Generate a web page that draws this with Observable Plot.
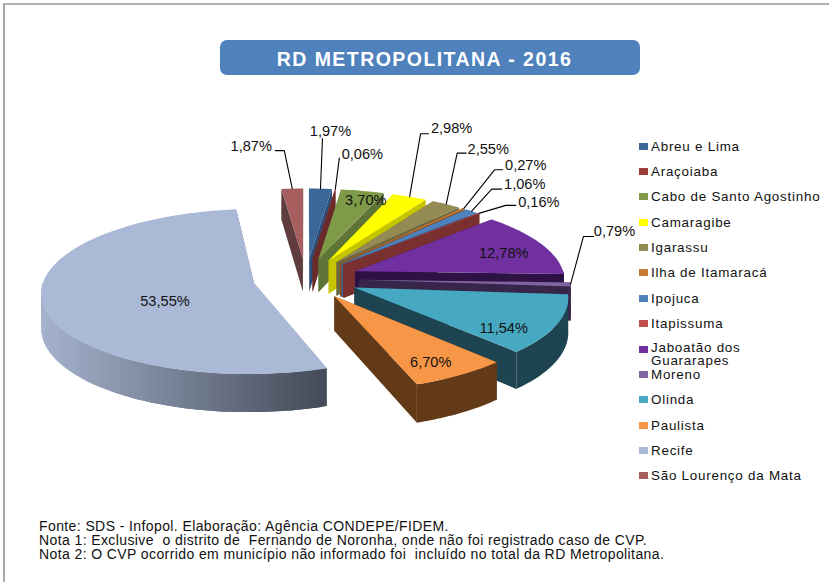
<!DOCTYPE html>
<html lang="pt">
<head>
<meta charset="utf-8">
<script src="https://cdn.jsdelivr.net/npm/d3@7"></script>
<script src="https://cdn.jsdelivr.net/npm/@observablehq/plot@0.6"></script>
<style>
html,body{margin:0;padding:0;background:#fff;}
#frame{position:relative;width:829px;height:582px;overflow:hidden;font-family:"Liberation Sans",Arial,sans-serif;color:#111;}
#frame svg{position:absolute;left:0;top:0;}
#edgeT{position:absolute;left:3px;top:3px;right:0;height:2px;background:#b0b0b0;}
#edgeL{position:absolute;left:3px;top:3px;bottom:0;width:2px;background:#a8a8a8;}
#title{position:absolute;left:220px;top:40px;width:409px;padding-right:11px;height:35px;background:#4f81bd;border-radius:7px;color:#fff;font-weight:bold;font-size:19.5px;letter-spacing:1.45px;line-height:38px;text-align:center;white-space:pre;}
.row{position:absolute;left:639px;width:190px;height:0;}
.sw{position:absolute;left:0;top:-4px;width:9px;height:7px;}
.lb{position:absolute;left:12px;top:-7px;font-size:13.4px;line-height:13px;letter-spacing:.76px;white-space:pre;}
.lb.two{top:-8.5px;}
#notes{position:absolute;left:39px;top:519px;font-size:14px;line-height:14px;letter-spacing:.4px;white-space:pre;}
</style>
</head>
<body>
<div id="frame">
<div id="plot"></div>
<div id="edgeT"></div><div id="edgeL"></div>
<div id="title"></div>
<div id="legend"></div>
<div id="notes"></div>
</div>
<script>
// ---- data ----
const chartTitle = "RD METROPOLITANA - 2016";
const categories = ["Abreu e Lima","Araçoiaba","Cabo de Santo Agostinho","Camaragibe","Igarassu","Ilha de Itamaracá","Ipojuca","Itapissuma","Jaboatão dos\nGuararapes","Moreno","Olinda","Paulista","Recife","São Lourenço da Mata"];
const values = [1.97,0.06,3.70,2.98,2.55,0.27,1.06,0.16,12.78,0.79,11.54,6.70,53.55,1.87];
const topColors = ["#3a6698","#953735","#7f9a48","#ffff00","#948a54","#c87a35","#4f81bd","#a03c3a","#7030a0","#8064a2","#47a8c2","#f79646","#a9b9d6","#a65e5e"];
const legendColors = ["#3a6698","#9a3d3b","#7f9a48","#ffff00","#948a54","#c87a35","#4f81bd","#c0504d","#7030a0","#8064a2","#47a8c2","#f79646","#a9b9d6","#a65e5e"];
const wallColors = ["#2b4d77","#6b2a2a","#5f7537","#c4c400","#6f683f","#8a5020","#3a6394","#7b3030","#2e1246","#37254a","#1e4452","#633a18","#8895ad","#5f3d3e"];
const notes = ["Fonte: SDS - Infopol. Elaboração: Agência CONDEPE/FIDEM.",
"Nota 1: Exclusive  o distrito de  Fernando de Noronha, onde não foi registrado caso de CVP.",
"Nota 2: O CVP ocorrido em município não informado foi  incluído no total da RD Metropolitana."];
// Label placement relative to the slice's own anchor: [textDx,textDy,elbowDx,elbowDy,startDx,startDy]
const outsideLabels = {0:[10,-57,2,-50,2,-50],1:[27,-35,4,-31,4,-31],3:[42,-68,11,-63,19,-63],4:[42,-55,11,-51,20,-51],5:[62,-43,31,-39,39,-39],6:[53,-27,20,-22,30,-22],7:[60,-11,27,-8,37,-8],9:[44,-53,13,-48,23,-48],13:[-41,-42,-8,-38,-17,-38]};
const insideLabels = {2:[19,-15],8:[32,-1],10:[26,18],11:[21,19],12:[41,6]};

// ---- 3D pie geometry derived from the values ----
const W = 829, H = 582;
const cx = 305.5, cy = 278, R = 210, explode = 53, tilt = 0.385, persp = 0.1, depth = 34;
const total = d3.sum(values);
const fmt = v => v.toFixed(2).replace(".", ",") + "%";
function proj(X, Y, h = 0) {
  const p = 1 / (1 - persp * Y / R);
  return {x: cx + X * p, y: cy + (tilt * Y + h) * p};
}
let cum = 0;
const slices = values.map((v, i) => {
  const a0 = cum / total * 2 * Math.PI; cum += v;
  const a1 = cum / total * 2 * Math.PI;
  const mid = (a0 + a1) / 2;
  return {i, v, a0, a1, mid, ex: explode * Math.sin(mid), ey: -explode * Math.cos(mid)};
});
const pt = (s, a, r = 1, h = 0) => proj(s.ex + R * r * Math.sin(a), s.ey - R * r * Math.cos(a), h);
const polys = [];
let pid = 0;
const addPoly = (pts, fill) => { const id = pid++; pts.forEach(p => polys.push({id, x: p.x, y: p.y, fill})); };
const recifeShade = d3.scaleLinear().domain([46, 326]).range(["#a3b1cb", "#434a58"]);
const order = [...slices].sort((a, b) => a.ey - b.ey);
for (const s of order) {
  const wall = wallColors[s.i];
  const apexT = pt(s, 0, 0), apexB = pt(s, 0, 0, depth);
  addPoly([apexT, pt(s, s.a0), pt(s, s.a0, 1, depth), apexB], wall);
  addPoly([apexT, pt(s, s.a1), pt(s, s.a1, 1, depth), apexB], wall);
  const n = Math.max(2, Math.ceil((s.a1 - s.a0) / 0.02));
  const angles = d3.range(n + 1).map(k => s.a0 + (s.a1 - s.a0) * k / n);
  const front = angles.filter(a => Math.cos(a) <= 0.02 || s.i === 9);
  if (s.i === 12) {
    // shaded wall: each band overlaps the next so that no seams appear
    for (let k = 0; k < front.length - 1; k++) {
      const a = front[k], b = front[Math.min(k + 2, front.length - 1)];
      const A = pt(s, a), B = pt(s, front[k + 1]);
      const fill = recifeShade((A.x + B.x) / 2);
      addPoly([A, pt(s, front[k + 1]), pt(s, b), pt(s, b, 1, depth), pt(s, front[k + 1], 1, depth), pt(s, a, 1, depth)], fill);
    }
  } else if (front.length > 1) {
    addPoly([...front.map(a => pt(s, a)), ...[...front].reverse().map(a => pt(s, a, 1, depth))], wall);
  }
  addPoly([apexT, ...angles.map(a => pt(s, a))], topColors[s.i]);
}

// ---- labels ----
const labelRows = [], leaderRows = [];
for (const s of slices) {
  const out = outsideLabels[s.i], ins = insideLabels[s.i];
  if (out) {
    const a = pt(s, s.mid);
    labelRows.push({x: a.x + out[0], y: a.y + out[1], text: fmt(s.v)});
    [[0, 0], [out[2], out[3]], [out[4], out[5]]].forEach(o => leaderRows.push({id: s.i, x: a.x + o[0], y: a.y + o[1]}));
  } else if (ins) {
    const a = pt(s, s.mid, 0.62);
    labelRows.push({x: a.x + ins[0], y: a.y + ins[1], text: fmt(s.v)});
  }
}

const chart = Plot.plot({
  width: W, height: H, margin: 0,
  style: {background: "transparent", overflow: "visible"},
  x: {domain: [0, W], range: [0, W], axis: null},
  y: {domain: [0, H], range: [0, H], axis: null},
  color: {type: "identity"},
  marks: [
    Plot.line(polys, {x: "x", y: "y", z: "id", fill: "fill", stroke: "none", curve: "linear-closed"}),
    Plot.line(leaderRows, {x: "x", y: "y", z: "id", stroke: "#000", strokeWidth: 1.1, curve: "linear"}),
    Plot.text(labelRows, {x: "x", y: "y", text: "text", fontSize: 14.6, fill: "#111", fontFamily: "Liberation Sans, Arial, sans-serif"})
  ]
});
document.getElementById("plot").appendChild(chart);

// ---- title, legend, notes ----
document.getElementById("title").textContent = chartTitle;
const legend = document.getElementById("legend");
categories.forEach((c, i) => {
  const row = document.createElement("div");
  row.className = "row";
  row.style.top = (146.5 + i * 25.38) + "px";
  const sw = document.createElement("div"); sw.className = "sw"; sw.style.background = legendColors[i];
  const lb = document.createElement("div"); lb.className = c.includes("\n") ? "lb two" : "lb"; lb.textContent = c;
  row.append(sw, lb); legend.append(row);
});
document.getElementById("notes").textContent = notes.join("\n");
</script>
</body>
</html>
